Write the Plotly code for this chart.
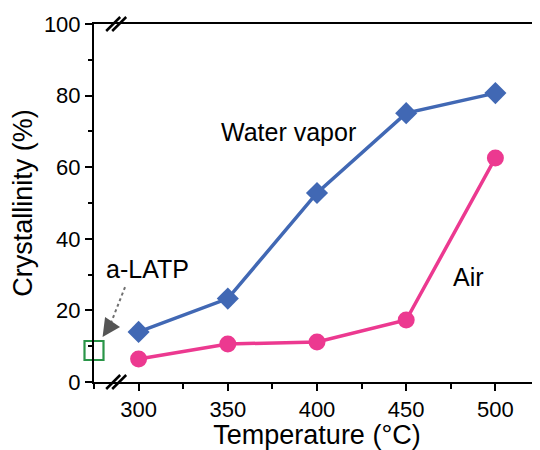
import plotly.graph_objects as go

temps      = [300, 350, 400, 450, 500]
water      = [14.0, 23.3, 52.8, 75.1, 80.7]
air        = [6.4, 10.6, 11.2, 17.3, 62.6]
latp_temp  = [275]
latp_cryst = [8.8]

blue  = '#4168B4'
pink  = '#EC3990'
green = '#2A9548'
font  = 'Liberation Sans, Arial, sans-serif'

fig = go.Figure()

fig.add_trace(go.Scatter(
    x = temps, y = water, mode = 'lines+markers',
    line = dict(color = blue, width = 3.5),
    marker = dict(symbol = 'diamond', size = 17, color = blue),
    cliponaxis = False
))

fig.add_trace(go.Scatter(
    x = temps, y = air, mode = 'lines+markers',
    line = dict(color = pink, width = 3.5),
    marker = dict(symbol = 'circle', size = 17, color = pink),
    cliponaxis = False
))

fig.add_trace(go.Scatter(
    x = latp_temp, y = latp_cryst, mode = 'markers',
    marker = dict(symbol = 'square-open', size = 19, color = green, line = dict(width = 2.2)),
    cliponaxis = False
))

# axis break marks
for yp in [0, 1]:
    for off in [-6, 0]:
        fig.add_shape(
            type = 'line', xref = 'x', yref = 'paper',
            xsizemode = 'pixel', ysizemode = 'pixel',
            xanchor = 288, yanchor = yp,
            x0 = off - 5, x1 = off + 9, y0 = -7, y1 = 7,
            line = dict(color = 'black', width = 2.5)
        )

# dotted pointer to a-LATP
fig.add_shape(
    type = 'line', x0 = 292.4, y0 = 26.5, x1 = 284.5, y1 = 16.5,
    line = dict(color = '#707070', width = 2, dash = 'dot')
)
fig.add_annotation(
    x = 279.8, y = 12.6, ax = 8, ay = -12, text = '',
    showarrow = True, arrowhead = 2, arrowsize = 2.4, arrowwidth = 1.5,
    arrowcolor = '#555555'
)

fig.add_annotation(x = 305, y = 31.5, text = 'a-LATP', showarrow = False,
                   font = dict(size = 25, color = 'black', family = font))
fig.add_annotation(x = 384, y = 69.8, text = 'Water vapor', showarrow = False,
                   font = dict(size = 25, color = 'black', family = font))
fig.add_annotation(x = 485, y = 29.3, text = 'Air', showarrow = False,
                   font = dict(size = 25, color = 'black', family = font))

fig.update_layout(
    width = 532, height = 442,
    margin = dict(l = 86, r = 0, t = 16, b = 68),
    plot_bgcolor = 'white', paper_bgcolor = 'white',
    showlegend = False,
    font = dict(family = font, size = 22, color = 'black')
)

fig.update_xaxes(
    range = [275, 525], tick0 = 300, dtick = 50, automargin = False,
    showgrid = False, zeroline = False,
    showline = True, linecolor = 'black', linewidth = 2, mirror = True,
    ticks = 'outside', ticklen = 7, tickwidth = 2, tickcolor = 'black',
    minor = dict(tick0 = 275, dtick = 25, ticks = 'outside', ticklen = 5, tickwidth = 2, tickcolor = 'black'),
    title = dict(text = 'Temperature (°C)', font = dict(size = 27), standoff = 2),
    tickfont = dict(size = 22)
)

fig.update_yaxes(
    range = [0, 100], tick0 = 0, dtick = 20, automargin = False,
    showgrid = False, zeroline = False,
    showline = True, linecolor = 'black', linewidth = 2,
    ticks = 'outside', ticklen = 7, tickwidth = 2, tickcolor = 'black',
    minor = dict(dtick = 10, ticks = 'outside', ticklen = 4, tickwidth = 2, tickcolor = 'black'),
    title = dict(text = 'Crystallinity (%)', font = dict(size = 27), standoff = 4),
    tickfont = dict(size = 22)
)

fig.write_html("out.html")
